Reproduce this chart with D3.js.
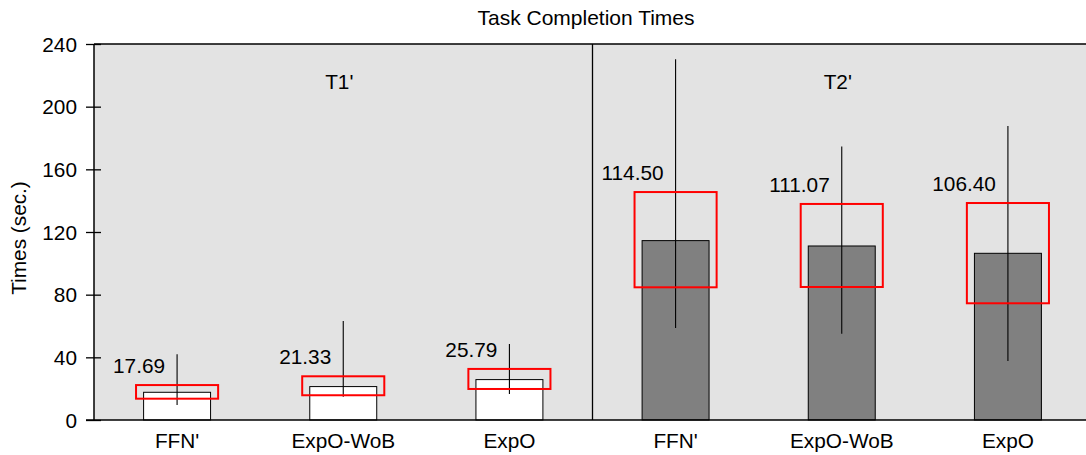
<!DOCTYPE html>
<html>
<head>
<meta charset="utf-8">
<script src="https://cdn.jsdelivr.net/npm/d3@7"></script>
<style>
  html, body { margin: 0; padding: 0; background: #fff; }
  svg { display: block; font-family: "Liberation Sans", Arial, Helvetica, sans-serif; }
</style>
</head>
<body>
<svg id="chart" width="1086" height="455"></svg>
<script>
// ---- data ----
const categories = ["FFN'", "ExpO-WoB", "ExpO", "FFN'", "ExpO-WoB", "ExpO"];
const groupOf = [0, 0, 0, 1, 1, 1];
const groups = ["T1'", "T2'"];
const means = [17.69, 21.33, 25.79, 114.50, 111.07, 106.40];
const boxLow = [13.6, 15.8, 19.8, 84.7, 84.9, 74.5];
const boxHigh = [22.3, 27.9, 32.6, 145.5, 137.9, 138.5];
const whiskerLow = [9.6, 14.9, 16.6, 58.7, 55.0, 37.7];
const whiskerHigh = [41.9, 63.2, 48.5, 230.2, 174.5, 187.7];
const yTicks = [0, 40, 80, 120, 160, 200, 240];
const title = "Task Completion Times";
const yLabel = "Times (sec.)";

// ---- layout ----
const svg = d3.select("#chart");
const pL = 94, pR = 1091, pT = 44, pB = 420;
const fs = 20.8;
const groupFill = ["#ffffff", "#808080"];

const x = d3.scaleBand().domain(d3.range(categories.length)).range([pL, pR]).padding(0);
const y = d3.scaleLinear().domain([0, 240]).range([pB, pT]);
const bw = x.bandwidth();
const cx = i => x(i) + bw / 2;

// background
svg.append("rect").attr("x", pL).attr("y", pT)
  .attr("width", pR - pL).attr("height", pB - pT).attr("fill", "#e3e3e3");

// group divider
const divX = (cx(2) + cx(3)) / 2;
svg.append("line").attr("x1", divX).attr("x2", divX).attr("y1", pT).attr("y2", pB)
  .attr("stroke", "#000").attr("stroke-width", 1.3);

// bars
const idx = d3.range(categories.length);
svg.append("g").selectAll("rect").data(idx).join("rect")
  .attr("x", i => cx(i) - bw * 0.2015)
  .attr("width", bw * 0.403)
  .attr("y", i => y(means[i]))
  .attr("height", i => y(0) - y(means[i]))
  .attr("fill", i => groupFill[groupOf[i]])
  .attr("stroke", "#000").attr("stroke-width", 1);

// whiskers
svg.append("g").selectAll("line").data(idx).join("line")
  .attr("x1", cx).attr("x2", cx)
  .attr("y1", i => y(whiskerLow[i])).attr("y2", i => y(whiskerHigh[i]))
  .attr("stroke", "#000").attr("stroke-width", 1.1);

// red boxes
svg.append("g").selectAll("rect").data(idx).join("rect")
  .attr("x", i => cx(i) - bw * 0.247)
  .attr("width", bw * 0.494)
  .attr("y", i => y(boxHigh[i]))
  .attr("height", i => y(boxLow[i]) - y(boxHigh[i]))
  .attr("fill", "none")
  .attr("stroke", "#ff0000").attr("stroke-width", 2);

// value labels
svg.append("g").selectAll("text").data(idx).join("text")
  .attr("x", i => cx(i) - 12)
  .attr("y", i => y(boxHigh[i]) - 12)
  .attr("text-anchor", "end")
  .attr("font-size", fs)
  .attr("fill", "#000")
  .text(i => means[i].toFixed(2));

// group labels
svg.append("g").selectAll("text").data(groups).join("text")
  .attr("x", (d, g) => cx(g * 3 + 1) - 4)
  .attr("y", 89)
  .attr("text-anchor", "middle")
  .attr("font-size", fs)
  .text(d => d);

// top border
svg.append("line").attr("x1", pL).attr("x2", pR).attr("y1", pT).attr("y2", pT)
  .attr("stroke", "#000").attr("stroke-width", 1.3);

// y axis
const yAxis = d3.axisLeft(y).tickValues(yTicks).tickSize(0).tickPadding(0);
const ya = svg.append("g").attr("transform", `translate(${pL},0)`).call(yAxis);
ya.select(".domain").remove();
ya.selectAll(".tick text").remove();
ya.selectAll(".tick").append("line")
  .attr("x1", -8).attr("x2", 7).attr("stroke", "#000").attr("stroke-width", 1.3);
ya.selectAll(".tick").append("text")
  .attr("x", -17).attr("dy", "0.35em")
  .attr("text-anchor", "end").attr("font-size", fs).attr("fill", "#000")
  .attr("font-family", "Liberation Sans, Arial, sans-serif")
  .text(d => d);
svg.append("line").attr("x1", pL).attr("x2", pL).attr("y1", pT).attr("y2", pB)
  .attr("stroke", "#000").attr("stroke-width", 1.5);

// x axis
svg.append("line").attr("x1", pL - 8).attr("x2", pR).attr("y1", pB).attr("y2", pB)
  .attr("stroke", "#000").attr("stroke-width", 1.3);
const xAxis = d3.axisBottom(x).tickSize(0).tickPadding(0).tickFormat(i => categories[i]);
const xa = svg.append("g").attr("transform", `translate(0,${pB})`).call(xAxis);
xa.select(".domain").remove();
xa.selectAll(".tick text")
  .attr("y", 28).attr("dy", 0)
  .attr("font-size", fs).attr("fill", "#000")
  .attr("font-family", "Liberation Sans, Arial, sans-serif");

// title
svg.append("text").attr("x", 586).attr("y", 25).attr("text-anchor", "middle")
  .attr("font-size", 21).text(title);

// y label
svg.append("text")
  .attr("transform", `translate(26,${(pT + pB) / 2 + 6}) rotate(-90)`)
  .attr("text-anchor", "middle").attr("font-size", fs).text(yLabel);
</script>
</body>
</html>
